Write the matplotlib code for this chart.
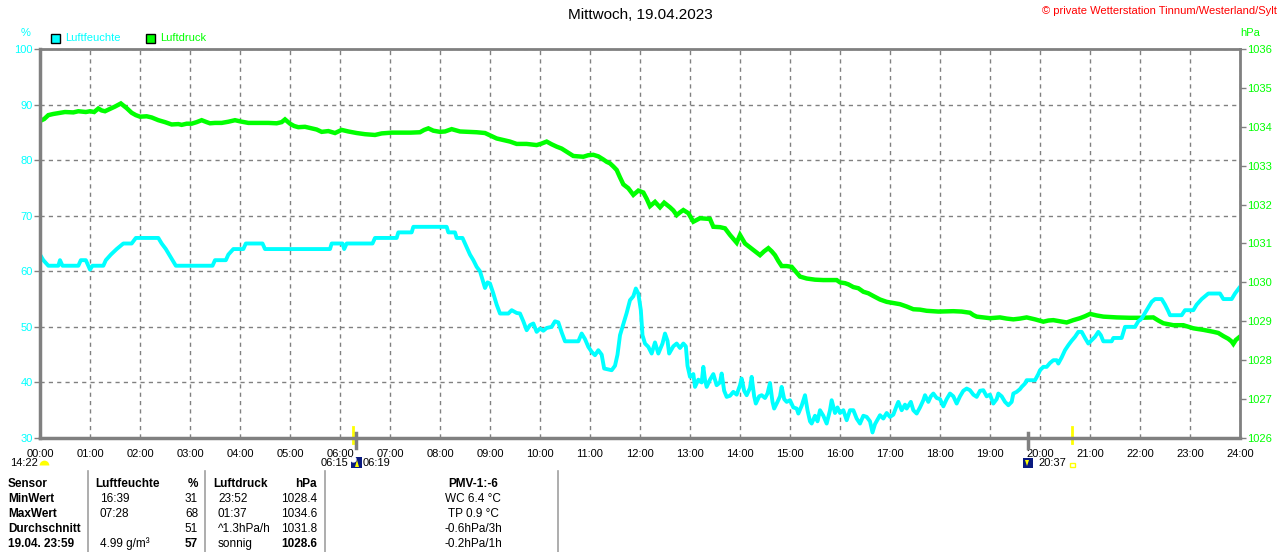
import numpy as np
import matplotlib
matplotlib.use("Agg")
import matplotlib.pyplot as plt
from matplotlib.patches import Rectangle, Polygon

plt.rcParams['font.family'] = ['Liberation Sans', 'DejaVu Sans']

W, H = 1280, 552
CYAN = "#00ffff"
GREEN = "#00ff00"
GRAY = "#808080"

hours_labels = ["%02d:00" % h for h in range(25)]

hum_times = [
    "00:00", "00:04", "00:10", "00:22", "00:24", "00:27", "00:46", "00:49", "00:55", "01:00",
    "01:03", "01:16", "01:19", "01:25", "01:32", "01:40", "01:50", "01:55", "02:22", "02:26",
    "02:31", "02:35", "02:39", "02:43", "03:27", "03:30", "03:43", "03:46", "03:52", "04:04",
    "04:07", "04:27", "04:30", "05:48", "05:50", "06:03", "06:05", "06:08", "06:39", "06:42",
    "07:08", "07:10", "07:26", "07:28", "08:08", "08:10", "08:18", "08:20", "08:27", "08:30",
    "08:33", "08:36", "08:40", "08:44", "08:48", "08:51", "08:54", "08:57", "09:00", "09:04",
    "09:08", "09:12", "09:22", "09:26", "09:32", "09:36", "09:40", "09:44", "09:48", "09:52",
    "09:56", "10:00", "10:04", "10:08", "10:14", "10:18", "10:22", "10:26", "10:30", "10:46",
    "10:50", "10:54", "10:58", "11:02", "11:06", "11:10", "11:14", "11:17", "11:26", "11:30",
    "11:33", "11:36", "11:40", "11:44", "11:48", "11:52", "11:55", "11:58", "12:01", "12:03",
    "12:06", "12:10", "12:14", "12:18", "12:22", "12:27", "12:30", "12:33", "12:35", "12:40",
    "12:44", "12:48", "12:52", "12:55", "12:57", "13:00", "13:04", "13:06", "13:10", "13:14",
    "13:16", "13:18", "13:20", "13:24", "13:28", "13:32", "13:36", "13:38", "13:41", "13:44",
    "13:48", "13:52", "13:56", "14:00", "14:02", "14:05", "14:08", "14:12", "14:14", "14:17",
    "14:19", "14:23", "14:26", "14:30", "14:33", "14:36", "14:39", "14:41", "14:45", "14:48",
    "14:50", "14:53", "14:56", "15:00", "15:04", "15:08", "15:10", "15:14", "15:18", "15:21",
    "15:24", "15:26", "15:30", "15:33", "15:36", "15:40", "15:44", "15:48", "15:50", "15:54",
    "15:57", "16:00", "16:04", "16:08", "16:12", "16:16", "16:20", "16:24", "16:28", "16:32",
    "16:36", "16:39", "16:42", "16:48", "16:52", "16:56", "17:00", "17:04", "17:08", "17:10",
    "17:14", "17:18", "17:20", "17:25", "17:28", "17:32", "17:36", "17:40", "17:42", "17:46",
    "17:49", "17:52", "17:56", "18:00", "18:04", "18:08", "18:12", "18:16", "18:20", "18:24",
    "18:28", "18:32", "18:36", "18:40", "18:44", "18:48", "18:52", "18:56", "19:00", "19:04",
    "19:08", "19:10", "19:14", "19:18", "19:22", "19:26", "19:28", "19:32", "19:36", "19:38",
    "19:42", "19:44", "19:54", "19:58", "20:00", "20:04", "20:08", "20:12", "20:16", "20:20",
    "20:22", "20:26", "20:30", "20:34", "20:38", "20:42", "20:46", "20:50", "20:54", "20:58",
    "21:02", "21:06", "21:10", "21:13", "21:16", "21:26", "21:28", "21:38", "21:40", "21:42",
    "21:54", "21:58", "22:02", "22:06", "22:10", "22:14", "22:18", "22:26", "22:30", "22:34",
    "22:36", "22:50", "22:54", "23:04", "23:08", "23:14", "23:18", "23:22", "23:36", "23:40",
    "23:50", "23:54", "23:59",
]
hum_vals = [
    63, 62, 61, 61, 62, 61, 61, 62, 62, 60.3,
    61, 61, 62, 63, 64, 65, 65, 66, 66, 65,
    64, 63, 62, 61, 61, 62, 62, 63, 64, 64,
    65, 65, 64, 64, 65, 65, 64, 65, 65, 66,
    66, 67, 67, 68, 68, 67, 67, 66, 66, 65,
    64, 63, 62, 60.8, 60, 58.5, 57, 58, 57.8, 56,
    54, 52.4, 52.4, 53, 52.5, 52.4, 51, 49.4, 50.3, 50.6,
    49.1, 49.7, 49.3, 49.8, 50, 51, 50.8, 49, 47.4, 47.4,
    48.8, 47.8, 46.4, 45.5, 44.9, 45.8, 45, 42.5, 42.2, 43,
    45, 48.5, 50.5, 52.5, 54.8, 55.5, 56.9, 56, 53, 48.5,
    47, 46.4, 45.2, 47.2, 45.2, 47, 48.8, 47.5, 45.2, 46.5,
    47, 46.2, 47, 46.5, 43, 41, 41.5, 39.2, 40.5, 40,
    42.8, 40.5, 39.2, 40.5, 41.5, 39.5, 40, 41.6, 38.5, 37.4,
    37.6, 38.3, 37.8, 39.5, 40.7, 38.5, 37.7, 39, 41, 37.5,
    36.2, 37.5, 37.7, 37.2, 38, 39.9, 36.5, 35.3, 36.5, 37.5,
    39.2, 37, 36.5, 36.8, 35.5, 35.3, 34.4, 35.8, 37.7, 35,
    33, 32.6, 34, 33, 35, 34, 32.6, 35, 36.8, 34.5,
    35.5, 34.5, 35, 33.2, 35, 35, 33.5, 32.6, 34, 33.8,
    33, 31, 32.5, 34.1, 33.5, 34.5, 33.8, 34.2, 35.8, 36.5,
    35, 36, 35.3, 36.5, 35, 34.4, 35.5, 36.8, 37.7, 36.5,
    37.5, 38, 37.2, 37, 35.7, 37, 38, 37.5, 36.2, 37.5,
    38.5, 38.9, 38.6, 37.8, 37.4, 38.5, 38.6, 37.5, 37.8, 36.2,
    37, 38, 37.5, 36.5, 35.9, 36.5, 38, 38.3, 38.8, 39.2,
    39.8, 40.4, 40.4, 41.5, 42.2, 42.8, 42.8, 43.5, 44, 44,
    43.4, 44.5, 45.8, 46.7, 47.5, 48.2, 49.1, 49.1, 48, 47,
    47.6, 48.2, 49.1, 48.5, 47.4, 47.4, 48, 48, 49, 50,
    50, 51, 51.5, 52.5, 53.5, 54.5, 55, 55, 54, 52.8,
    52.1, 52.1, 53, 53, 54, 55, 55.5, 56, 56, 55,
    55, 56, 57,
]

press_times = [
    "00:00", "00:05", "00:10", "00:16", "00:24", "00:30", "00:40", "00:46", "00:55", "01:00",
    "01:05", "01:10", "01:14", "01:18", "01:24", "01:30", "01:37", "01:44", "01:50", "01:55",
    "02:00", "02:08", "02:14", "02:22", "02:30", "02:38", "02:46", "02:50", "02:56", "03:02",
    "03:08", "03:14", "03:20", "03:24", "03:30", "03:38", "03:46", "03:54", "04:00", "04:10",
    "04:20", "04:34", "04:44", "04:50", "04:54", "05:00", "05:05", "05:10", "05:18", "05:26",
    "05:32", "05:38", "05:46", "05:54", "06:02", "06:10", "06:20", "06:30", "06:42", "06:50",
    "07:02", "07:15", "07:25", "07:36", "07:41", "07:46", "07:52", "08:00", "08:06", "08:14",
    "08:24", "08:34", "08:44", "08:54", "09:00", "09:08", "09:16", "09:24", "09:32", "09:44",
    "09:56", "10:02", "10:08", "10:14", "10:20", "10:26", "10:32", "10:40", "10:46", "10:52",
    "10:58", "11:04", "11:10", "11:16", "11:20", "11:24", "11:28", "11:32", "11:36", "11:40",
    "11:46", "11:52", "11:58", "12:04", "12:08", "12:12", "12:18", "12:24", "12:29", "12:36",
    "12:40", "12:44", "12:48", "12:52", "12:58", "13:04", "13:12", "13:18", "13:24", "13:28",
    "13:36", "13:42", "13:48", "13:52", "13:56", "14:00", "14:06", "14:12", "14:16", "14:24",
    "14:29", "14:34", "14:38", "14:42", "14:46", "14:50", "14:56", "15:02", "15:06", "15:12",
    "15:20", "15:30", "15:40", "15:56", "16:00", "16:06", "16:10", "16:16", "16:22", "16:28",
    "16:34", "16:40", "16:48", "16:56", "17:04", "17:12", "17:20", "17:28", "17:36", "17:44",
    "17:58", "18:16", "18:26", "18:36", "18:40", "18:44", "18:52", "19:00", "19:12", "19:20",
    "19:28", "19:36", "19:44", "19:54", "20:04", "20:10", "20:16", "20:24", "20:32", "20:40",
    "20:48", "20:54", "21:00", "21:08", "21:16", "21:32", "21:48", "22:00", "22:16", "22:22",
    "22:28", "22:40", "22:52", "23:04", "23:16", "23:28", "23:34", "23:40", "23:46", "23:50",
    "23:52", "23:55", "23:59",
]
press_vals = [
    1034.15, 1034.20, 1034.30, 1034.33, 1034.36, 1034.38, 1034.37, 1034.40, 1034.38, 1034.40,
    1034.38, 1034.47, 1034.42, 1034.40, 1034.46, 1034.52, 1034.60, 1034.48, 1034.36, 1034.30,
    1034.26, 1034.27, 1034.24, 1034.17, 1034.12, 1034.06, 1034.07, 1034.05, 1034.08, 1034.08,
    1034.12, 1034.17, 1034.12, 1034.09, 1034.10, 1034.10, 1034.13, 1034.17, 1034.14, 1034.10,
    1034.10, 1034.10, 1034.09, 1034.12, 1034.19, 1034.08, 1034.02, 1033.99, 1034.00, 1033.96,
    1033.93, 1033.87, 1033.89, 1033.84, 1033.92, 1033.88, 1033.84, 1033.81, 1033.79, 1033.83,
    1033.85, 1033.85, 1033.85, 1033.86, 1033.92, 1033.96, 1033.90, 1033.87, 1033.88, 1033.94,
    1033.88, 1033.87, 1033.86, 1033.84, 1033.78, 1033.70, 1033.66, 1033.62, 1033.56, 1033.56,
    1033.53, 1033.57, 1033.62, 1033.55, 1033.49, 1033.44, 1033.36, 1033.25, 1033.24, 1033.23,
    1033.27, 1033.28, 1033.24, 1033.16, 1033.10, 1033.06, 1032.98, 1032.89, 1032.70, 1032.52,
    1032.42, 1032.25, 1032.36, 1032.31, 1032.15, 1031.96, 1032.07, 1031.93, 1032.05, 1031.93,
    1031.85, 1031.73, 1031.80, 1031.86, 1031.78, 1031.56, 1031.65, 1031.64, 1031.63, 1031.43,
    1031.42, 1031.39, 1031.22, 1031.12, 1031.02, 1031.22, 1031.00, 1030.90, 1030.83, 1030.70,
    1030.80, 1030.88, 1030.80, 1030.70, 1030.55, 1030.42, 1030.42, 1030.40, 1030.30, 1030.15,
    1030.10, 1030.07, 1030.06, 1030.06, 1030.00, 1029.98, 1029.95, 1029.88, 1029.85, 1029.76,
    1029.72, 1029.65, 1029.56, 1029.50, 1029.47, 1029.44, 1029.38, 1029.31, 1029.30, 1029.27,
    1029.25, 1029.26, 1029.25, 1029.22, 1029.16, 1029.12, 1029.10, 1029.08, 1029.10, 1029.07,
    1029.05, 1029.07, 1029.10, 1029.05, 1028.99, 1029.02, 1029.03, 1029.00, 1028.97, 1029.03,
    1029.08, 1029.13, 1029.19, 1029.15, 1029.12, 1029.10, 1029.09, 1029.09, 1029.10, 1029.02,
    1028.95, 1028.90, 1028.90, 1028.82, 1028.78, 1028.73, 1028.70, 1028.62, 1028.55, 1028.48,
    1028.42, 1028.52, 1028.59,
]

# sun / moon times shown under the x axis
marker_yellow = ["06:15", "20:38"]
marker_gray = ["06:19", "19:46"]

table_rows = [
    ["Sensor", "Luftfeuchte", "%", "Luftdruck", "hPa", "PMV-1:-6"],
    ["MinWert", "16:39", "31", "23:52", "1028.4", "WC 6.4 °C"],
    ["MaxWert", "07:28", "68", "01:37", "1034.6", "TP 0.9 °C"],
    ["Durchschnitt", "", "51", "^1.3hPa/h", "1031.8", "-0.6hPa/3h"],
    ["19.04. 23:59", "4.99 g/m³", "57", "sonnig", "1028.6", "-0.2hPa/1h"],
]


def to_hours(t):
    h, m = t.split(":")
    return int(h) + int(m) / 60.0


def fx(x):
    return x / W


def fy(y):
    return 1 - y / H


fig = plt.figure(figsize=(W / 100, H / 100), dpi=100)
fig.patch.set_facecolor("white")

ax = fig.add_axes([fx(40), fy(438), fx(1200), 389 / H])
ax2 = ax.twinx()

ax.set_xlim(0, 24)
ax.set_ylim(30, 100)
ax2.set_ylim(1026, 1036)

ax.set_xticks(range(25))
ax.set_xticklabels(hours_labels)
ax.set_yticks(range(30, 101, 10))
ax2.set_yticks(range(1026, 1037))

ax.grid(True, color=GRAY, linestyle=(0, (3, 3)), linewidth=1)
ax.set_axisbelow(True)

ax.tick_params(axis="x", length=0, pad=8, labelsize=8, labelcolor="black")
ax.tick_params(axis="y", length=4, width=1, color=GRAY, pad=1, labelsize=8, labelcolor=CYAN)
ax2.tick_params(axis="y", length=4, width=1, color=GRAY, pad=1, labelsize=8, labelcolor=GREEN)

for s in ax.spines.values():
    s.set_visible(False)
for name, s in ax2.spines.items():
    s.set_color(GRAY)
    s.set_linewidth(2.5 if name in ("left", "bottom") else 2)

# pressure on the right axis, humidity drawn in ax2 on top via ax's scale
ht = [to_hours(t) for t in hum_times]
pt = [to_hours(t) for t in press_times]
ax2.plot(pt, press_vals, color=GREEN, linewidth=3.2, solid_joinstyle="miter")
ax2.plot(ht, hum_vals, color=CYAN, linewidth=2.8, transform=ax.transData)
ax2.set_ylim(1026, 1036)
ax2.set_xlim(0, 24)

# sun/moon markers on the x axis
for t in marker_yellow:
    ax.plot([to_hours(t)] * 2, [-0.012, 0.028], color="#ffff00", linewidth=2,
            transform=ax.get_xaxis_transform(), clip_on=False, zorder=5)
for t in marker_gray:
    ax.plot([to_hours(t)] * 2, [-0.025, 0.012], color=GRAY, linewidth=2.5,
            transform=ax.get_xaxis_transform(), clip_on=False, zorder=5)

# titles and axis units
fig.text(0.5, fy(15), "Mittwoch, 19.04.2023", ha="center", va="center", fontsize=11)
fig.text(fx(1277), fy(11), "© private Wetterstation Tinnum/Westerland/Sylt",
         ha="right", va="center", fontsize=8, color="red")
fig.text(fx(26), fy(33), "%", ha="center", va="center", fontsize=8, color=CYAN)
fig.text(fx(1250), fy(33), "hPa", ha="center", va="center", fontsize=8, color=GREEN)

# legend
for x0, label, col in [(51, "Luftfeuchte", CYAN), (146, "Luftdruck", GREEN)]:
    fig.add_artist(Rectangle((fx(x0), fy(43)), 9 / W, 9 / H, facecolor=col,
                             edgecolor="black", linewidth=1, transform=fig.transFigure))
    fig.text(fx(x0 + 14), fy(38), label, ha="left", va="center", fontsize=8, color=col)

# time notes under the axis
fig.text(fx(10), fy(463), "14:22", ha="left", va="center", fontsize=8)
fig.add_artist(plt.Line2D([fx(44)], [fy(465)], marker="o", markersize=7,
                          fillstyle="top", markerfacecolor="#ffff00",
                          markerfacecoloralt="none", markeredgecolor="none",
                          linestyle="none", transform=fig.transFigure))
fig.text(fx(348), fy(463), "06:15", ha="right", va="center", fontsize=8)
fig.text(fx(363), fy(463), "06:19", ha="left", va="center", fontsize=8)
fig.add_artist(Rectangle((fx(351), fy(468)), 11 / W, 11 / H, facecolor="#0a1a80",
                         edgecolor="none", transform=fig.transFigure))
fig.add_artist(plt.Line2D([fx(353)], [fy(459)], marker="o", markersize=3.5,
                          color="white", linestyle="none", transform=fig.transFigure))
fig.add_artist(Polygon([(fx(355), fy(467)), (fx(357), fy(460)), (fx(359), fy(467))],
                       closed=True, facecolor="#ffff00", edgecolor="none",
                       transform=fig.transFigure))
fig.text(fx(1038), fy(463), "20:37", ha="left", va="center", fontsize=8)
fig.add_artist(Rectangle((fx(1023), fy(468)), 10 / W, 10 / H, facecolor="#0a1a80",
                         edgecolor="none", transform=fig.transFigure))
fig.add_artist(Polygon([(fx(1025), fy(460)), (fx(1027), fy(466)), (fx(1029), fy(460))],
                       closed=True, facecolor="#ffff00", edgecolor="none",
                       transform=fig.transFigure))
fig.add_artist(Rectangle((fx(1070), fy(467)), 5 / W, 4 / H, facecolor="none",
                         edgecolor="#ffff00", linewidth=1, transform=fig.transFigure))

# statistics table
for xs in [88, 205, 325, 558]:
    fig.add_artist(plt.Line2D([fx(xs), fx(xs)], [fy(471), 0], color="#a0a0a0",
                              linewidth=1.2, transform=fig.transFigure))

row_y = [484, 499, 514, 529, 544]
col_spec = [(8, "left"), (100, "left"), (198, "right"), (218, "left"), (317, "right"), (473, "center")]
for r, (yy, row) in enumerate(zip(row_y, table_rows)):
    for c, (txt, (xx, ha)) in enumerate(zip(row, col_spec)):
        if r == 0 and c in (1, 3):
            xx = xx - 5
        bold = (c == 0) or (r == 0) or (r == 4 and c in (2, 4))
        fig.text(fx(xx), fy(yy), txt, ha=ha, va="center", fontsize=8.5,
                 fontweight="bold" if bold else "normal", color="black")

fig.savefig("out.png", dpi=100, facecolor="white")
